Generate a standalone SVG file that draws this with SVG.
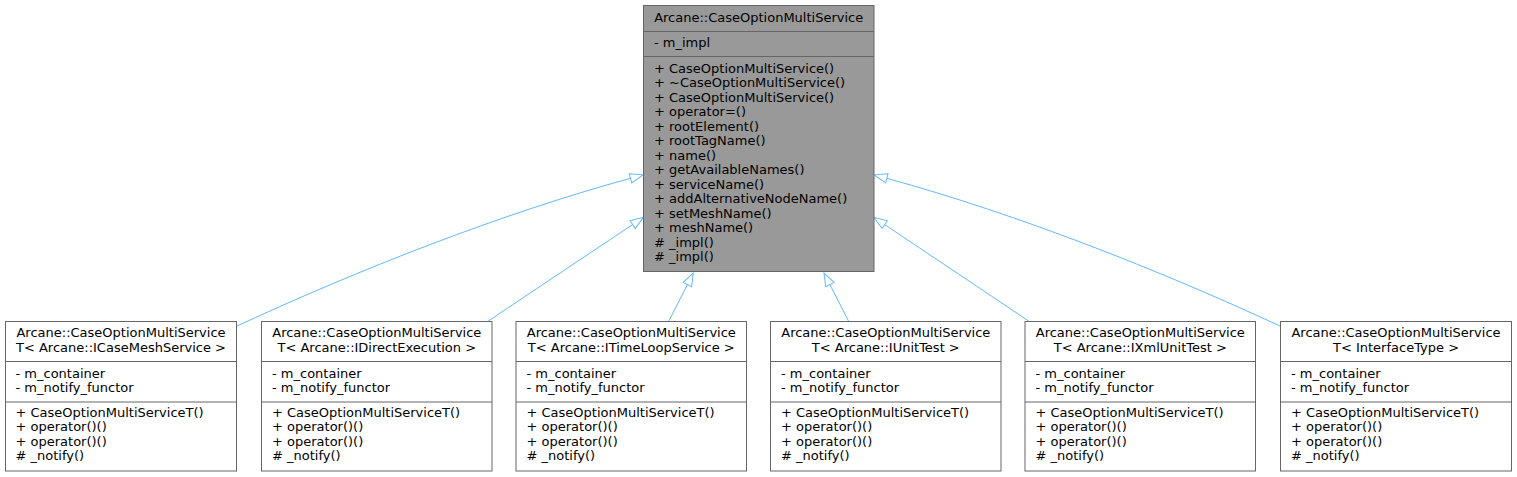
<svg xmlns="http://www.w3.org/2000/svg" width="1517" height="477" viewBox="0 0 1517 477">
<defs>
<style>
text{font-family:"DejaVu Sans",sans-serif;font-size:13px;fill:#000}
.t{text-anchor:middle}
.box{fill:#fff;stroke:#666;stroke-width:1}
.main{fill:#999;stroke:#666;stroke-width:1}
.sep{stroke:#666;stroke-width:1;fill:none}
.edge{fill:none;stroke:#63b8ff;stroke-width:1;marker-end:url(#arr)}
</style>
<marker id="arr" markerUnits="userSpaceOnUse" markerWidth="16" markerHeight="12" viewBox="-1 -6 16 12" refX="0" refY="0" orient="auto" overflow="visible">
<polygon points="0,-4.7 13,0 0,4.7" fill="#fff" stroke="#63b8ff" stroke-width="1"/>
</marker>
</defs>
<rect width="1517" height="477" fill="#fff"/>
<g id="connectors">
<path class="edge" d="M237,326 C358,270 500,214 630.5,178.3"/>
<path class="edge" d="M487,322 C530,293 590,253 632.6,224.6"/>
<path class="edge" d="M668.3,322 L687.4,284.6"/>
<path class="edge" d="M849,322 L829.9,284.6"/>
<path class="edge" d="M1030,322 C987,293 927,253 884.7,224.6"/>
<path class="edge" d="M1280,326 C1159,270 1017,214 886.8,178.3"/>
</g>
<g id="node_main">
<rect class="main" x="643.5" y="5.5" width="230.5" height="266"/>
<path class="sep" d="M643.5,31.5H874M643.5,56.5H874"/>
<text class="t" x="758.7" y="21.5">Arcane::CaseOptionMultiService</text>
<text x="654" y="46.7">- m_impl</text>
<text x="654" y="72.7">+ CaseOptionMultiService()</text>
<text x="654" y="87.2">+ ~CaseOptionMultiService()</text>
<text x="654" y="101.7">+ CaseOptionMultiService()</text>
<text x="654" y="116.2">+ operator=()</text>
<text x="654" y="130.7">+ rootElement()</text>
<text x="654" y="145.2">+ rootTagName()</text>
<text x="654" y="159.7">+ name()</text>
<text x="654" y="174.2">+ getAvailableNames()</text>
<text x="654" y="188.7">+ serviceName()</text>
<text x="654" y="203.2">+ addAlternativeNodeName()</text>
<text x="654" y="217.7">+ setMeshName()</text>
<text x="654" y="232.2">+ meshName()</text>
<text x="654" y="246.7"># _impl()</text>
<text x="654" y="261.2"># _impl()</text>
</g>
<g id="node_mesh">
<rect class="box" x="5.5" y="321.5" width="231" height="149.5"/>
<path class="sep" d="M5.5,361.5H236.5M5.5,402H236.5"/>
<text class="t" x="121" y="337">Arcane::CaseOptionMultiService</text>
<text class="t" x="121" y="351.5">T&lt; Arcane::ICaseMeshService &gt;</text>
<text x="15.5" y="377.8">- m_container</text>
<text x="15.5" y="392.3">- m_notify_functor</text>
<text x="15.5" y="416.8">+ CaseOptionMultiServiceT()</text>
<text x="15.5" y="431.3">+ operator()()</text>
<text x="15.5" y="445.8">+ operator()()</text>
<text x="15.5" y="460.3"># _notify()</text>
</g>
<g id="node_direct">
<rect class="box" x="261.5" y="321.5" width="230.5" height="149.5"/>
<path class="sep" d="M261.5,361.5H492M261.5,402H492"/>
<text class="t" x="376.8" y="337">Arcane::CaseOptionMultiService</text>
<text class="t" x="376.8" y="351.5">T&lt; Arcane::IDirectExecution &gt;</text>
<text x="272" y="377.8">- m_container</text>
<text x="272" y="392.3">- m_notify_functor</text>
<text x="272" y="416.8">+ CaseOptionMultiServiceT()</text>
<text x="272" y="431.3">+ operator()()</text>
<text x="272" y="445.8">+ operator()()</text>
<text x="272" y="460.3"># _notify()</text>
</g>
<g id="node_timeloop">
<rect class="box" x="516" y="321.5" width="230.5" height="149.5"/>
<path class="sep" d="M516,361.5H746.5M516,402H746.5"/>
<text class="t" x="631.3" y="337">Arcane::CaseOptionMultiService</text>
<text class="t" x="631.3" y="351.5">T&lt; Arcane::ITimeLoopService &gt;</text>
<text x="526.5" y="377.8">- m_container</text>
<text x="526.5" y="392.3">- m_notify_functor</text>
<text x="526.5" y="416.8">+ CaseOptionMultiServiceT()</text>
<text x="526.5" y="431.3">+ operator()()</text>
<text x="526.5" y="445.8">+ operator()()</text>
<text x="526.5" y="460.3"># _notify()</text>
</g>
<g id="node_unittest">
<rect class="box" x="770.5" y="321.5" width="230.5" height="149.5"/>
<path class="sep" d="M770.5,361.5H1001M770.5,402H1001"/>
<text class="t" x="885.8" y="337">Arcane::CaseOptionMultiService</text>
<text class="t" x="885.8" y="351.5">T&lt; Arcane::IUnitTest &gt;</text>
<text x="781" y="377.8">- m_container</text>
<text x="781" y="392.3">- m_notify_functor</text>
<text x="781" y="416.8">+ CaseOptionMultiServiceT()</text>
<text x="781" y="431.3">+ operator()()</text>
<text x="781" y="445.8">+ operator()()</text>
<text x="781" y="460.3"># _notify()</text>
</g>
<g id="node_xmlunittest">
<rect class="box" x="1025" y="321.5" width="230.5" height="149.5"/>
<path class="sep" d="M1025,361.5H1255.5M1025,402H1255.5"/>
<text class="t" x="1140.3" y="337">Arcane::CaseOptionMultiService</text>
<text class="t" x="1140.3" y="351.5">T&lt; Arcane::IXmlUnitTest &gt;</text>
<text x="1035.5" y="377.8">- m_container</text>
<text x="1035.5" y="392.3">- m_notify_functor</text>
<text x="1035.5" y="416.8">+ CaseOptionMultiServiceT()</text>
<text x="1035.5" y="431.3">+ operator()()</text>
<text x="1035.5" y="445.8">+ operator()()</text>
<text x="1035.5" y="460.3"># _notify()</text>
</g>
<g id="node_interface">
<rect class="box" x="1280.5" y="321.5" width="231" height="149.5"/>
<path class="sep" d="M1280.5,361.5H1511.5M1280.5,402H1511.5"/>
<text class="t" x="1396" y="337">Arcane::CaseOptionMultiService</text>
<text class="t" x="1396" y="351.5">T&lt; InterfaceType &gt;</text>
<text x="1291" y="377.8">- m_container</text>
<text x="1291" y="392.3">- m_notify_functor</text>
<text x="1291" y="416.8">+ CaseOptionMultiServiceT()</text>
<text x="1291" y="431.3">+ operator()()</text>
<text x="1291" y="445.8">+ operator()()</text>
<text x="1291" y="460.3"># _notify()</text>
</g>
</svg>
